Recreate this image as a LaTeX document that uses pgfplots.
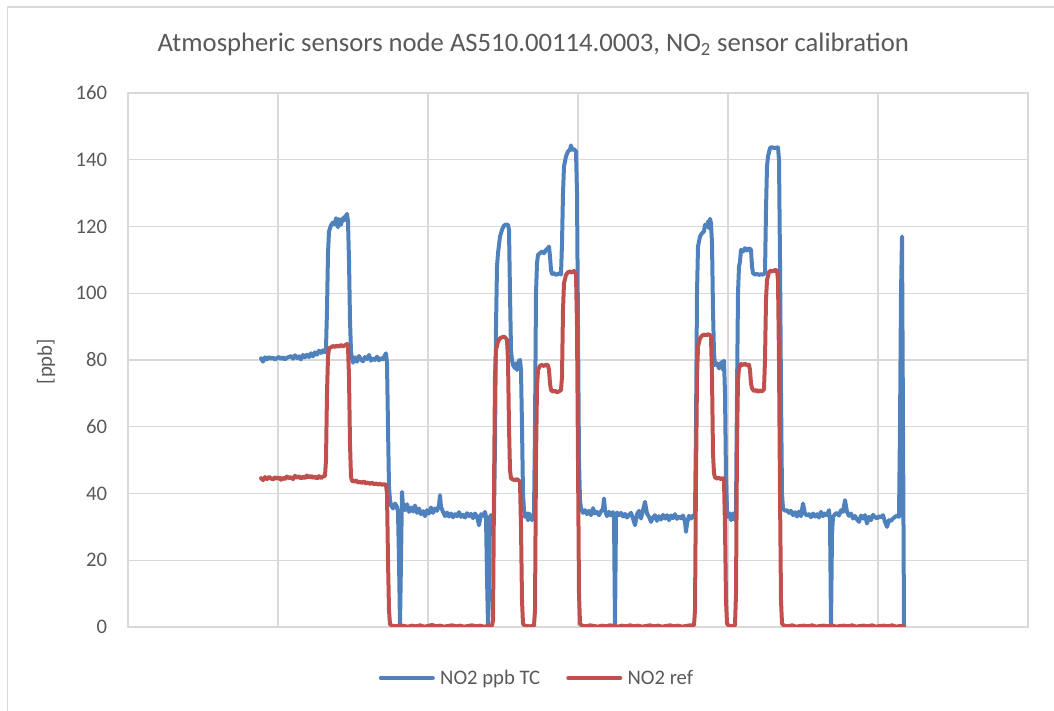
\documentclass[border=0pt]{standalone}
\usepackage{pgfplots}
\pgfplotsset{compat=1.18}
\usepackage{fontspec}
\setmainfont{Carlito}
\definecolor{ncblue}{HTML}{4F81BD}
\definecolor{ncred}{HTML}{C0504D}
\definecolor{gridgray}{HTML}{D9D9D9}
\definecolor{textgray}{HTML}{595959}
\begin{document}
\begin{tikzpicture}
\useasboundingbox (0,0) rectangle (790.5pt,533.25pt);
% chart frame (only top and left are inside the picture)
\draw[gridgray, line width=1.2pt] (5.6pt,0) -- (5.6pt,528pt) -- (790.5pt,528pt);
\node[textgray, anchor=base, font=\fontsize{20}{24}\selectfont] at (400pt,494.5pt)
  {Atmospheric sensors node AS510.00114.0003, NO\textsubscript{2} sensor calibration};
\node[textgray, rotate=90, font=\fontsize{15.5}{18}\selectfont] at (34.5pt,262pt) {[ppb]};
\begin{axis}[
  at={(96pt,63pt)}, anchor=south west,
  scale only axis, width=675pt, height=400.5pt,
  xmin=128, xmax=1028, ymin=0, ymax=160,
  xtick={128,278,...,1028}, xticklabels={},
  ytick={0,20,...,160},
  major tick length=0pt,
  grid=major,
  grid style={gridgray, line width=1pt},
  axis line style={gridgray, line width=1pt},
  /pgf/number format/assume math mode=true,
  yticklabel style={text=textgray, inner sep=0pt, xshift=-15.5pt,
    font=\fontsize{15.5}{18}\selectfont},
  every axis plot/.append style={line width=3pt, line join=round, line cap=round},
  legend columns=2,
  legend style={at={(0.4533,-0.0955)}, anchor=center, draw=none, fill=none,
    font=\fontsize{15.5}{18}\selectfont, text=textgray,
    nodes={inner sep=0pt},
    /tikz/every odd column/.append style={column sep=4pt},
    /tikz/every even column/.append style={column sep=19.5pt}},
  legend image code/.code={\draw[#1] (0pt,0pt) -- (39pt,0pt);},
]
\addplot[ncblue] coordinates {
(261,80.5)(263,79.5)(265,80.8)(267,80.2)(269,80.9)(271,80.4)(273,80.7)(275,80.1)(277,80.6)(279,80.9)
(281,80.3)(283,80.8)(285,80.2)(287,80.7)(289,80.9)(291,81.2)(293,80.4)(295,81.4)(297,80.6)(299,81.1)
(301,80.2)(303,81.5)(305,80.8)(307,81.6)(309,80.9)(311,82.0)(313,81.1)(315,82.3)(317,81.6)(319,82.8)
(321,82.1)(323,82.9)(325,82.3)(326,83.5)(327,95)(328,112)(329,118.5)(331,120.4)(333,121.2)(335,120.6)
(336,122.5)(337,121.0)(338,119.8)(339,122.2)(340,121.4)(341,120.5)(342,122.3)(343,121.6)(344,122.8)
(345,122.0)(346,123.2)(347,123.8)(348,121.5)(349,110)(350,92)(351,82.5)(352,80.5)(353,79.2)(355,80.8)
(357,79.5)(359,81.2)(361,80.1)(363,79.6)(365,80.9)(367,80.3)(369,81.5)(371,79.8)(373,80.5)(375,80.0)
(377,81.0)(379,79.9)(381,80.6)(383,80.2)(385,81.5)(386,82)(387,79)(388,60)(389,42)(390,38)(391,36.5)
(393,35.5)(395,37)(397,36)(398,34.5)(399,20)(400,0.5)(401,20)(402,40.5)(403,36)(405,35)(407,36.8)
(409,34.5)(411,35.8)(413,34.6)(415,36.4)(417,34.2)(419,35.5)(421,33.8)(423,34.7)(425,33.2)(427,35.0)
(429,34.0)(431,35.8)(433,34.2)(435,35.5)(437,34.8)(439,36.5)(440,39.5)(441,36)(443,34.5)(445,33.2)
(447,34.3)(449,33.1)(451,34.0)(453,32.9)(455,33.8)(457,33.2)(459,34.4)(461,33.0)(463,33.6)(465,32.8)
(467,34.1)(469,33.2)(471,33.9)(473,32.6)(475,34.0)(477,33.1)(479,30.5)(481,33.8)(483,33.3)(485,34.5)
(486,33)(487,15)(488,0.5)(489,10)(490,33)(491,33.5)(493,33)(494,34)(495,55)(496,90)(497,108)(498,112)
(500,117)(502,119)(504,120.3)(506,120.6)(508,120.5)(509,119)(510,100)(511,83)(512,80)(513,78.5)
(515,77.5)(516,79)(517,77)(518,78.5)(519,79.8)(520,80)(521,77)(522,60)(523,40)(524,35)(525,33)
(527,34)(528,32)(529,34)(531,33)(532,32)(533,33)(534,34)(535,60)(536,100)(537,109)(538,111.5)
(540,112)(542,112.5)(544,112)(546,113)(548,113.5)(549,114)(550,111)(551,107)(552,105.8)(554,106)
(556,105.5)(558,105.8)(560,106)(561,105.6)(562,115)(563,130)(564,138)(566,141)(568,142.5)(570,143)
(571,144.3)(572,143)(574,143.2)(576,142.5)(577,130)(578,90)(579,50)(580,38)(581,35.5)(583,34.2)
(585,35)(587,33.8)(589,34.8)(591,33.5)(593,35.6)(595,34)(597,34.5)(599,33.5)(601,34.6)(603,35.5)
(604,38.5)(605,35)(607,33.2)(609,34.5)(611,33.4)(613,34.4)(614,33)(615,0.5)(616,33)(617,34.3)
(619,33.5)(621,34.2)(623,33.1)(625,33.9)(627,32.8)(629,33.6)(631,34.2)(633,32.5)(635,30.5)(637,33.8)
(639,34.8)(641,32.5)(643,35)(645,37.5)(647,34)(649,33)(651,31.5)(653,32.8)(655,33.5)(657,31.8)
(659,33.2)(661,32.2)(663,33.6)(665,32.5)(667,33.5)(669,32)(671,33.4)(673,32.6)(675,33.8)(677,32.4)
(679,33.1)(681,32.6)(683,33.4)(685,31.5)(686,28.5)(687,31)(689,33.3)(691,32.5)(693,33.4)(694,32.8)
(695,34)(696,60)(697,100)(698,114)(700,117)(702,118)(704,118.5)(705,120.5)(707,120)(708,121.5)
(709,119.5)(710,122.3)(711,121)(712,115)(713,95)(714,82)(715,78.5)(717,79)(719,77.5)(720,79)(721,78)
(722,79.5)(723,77)(724,79.8)(725,70)(726,45)(727,35)(728,33)(730,34)(731,32)(733,34)(734,33)(735,32)
(736,35)(737,70)(738,100)(739,108)(740,109.5)(741,113)(743,112.5)(745,113.5)(747,112.8)(749,113.5)
(751,113)(752,108)(753,106)(755,105.6)(757,105.8)(759,105.5)(761,105.7)(763,105.6)(765,106)(766,125)
(767,138)(768,141)(770,143.5)(772,143.8)(774,143.5)(776,143.6)(778,143.7)(779,140)(780,110)(781,70)
(782,40)(783,35.5)(785,34.8)(787,35)(789,34.2)(791,34.8)(793,33.5)(795,34.4)(797,33.1)(799,34.6)
(801,33.2)(803,37)(805,34)(807,33.4)(809,33.8)(811,32.9)(813,34)(815,33.1)(817,33.8)(819,32.8)
(821,34.5)(823,33.2)(825,34)(827,33.5)(829,35)(830,32)(831,0.5)(832,28)(833,33)(835,33.8)(837,34.2)
(839,33.4)(841,35)(843,34.5)(845,38)(847,34.5)(849,33.3)(851,34)(853,32.5)(855,33.3)(857,32.2)
(859,31.5)(861,33.4)(863,32.5)(865,33.5)(867,31)(869,33)(871,32)(873,33.6)(875,33)(877,32.5)
(879,33.2)(881,32.8)(883,33.5)(885,31.5)(887,30)(889,32)(891,31.8)(893,32.5)(895,33)(897,33.4)
(899,33)(900,60)(901,100)(902,117)(903,60)(904,0.5)
};
\addlegendentry{NO2 ppb TC}
\addplot[ncred] coordinates {
(261,44.6)(263,44.0)(265,44.9)(267,44.3)(269,45.0)(271,44.5)(273,44.2)(275,44.9)(277,44.4)(279,44.8)
(281,44.1)(283,44.7)(285,44.3)(287,45.1)(289,44.6)(291,44.9)(293,44.3)(295,45.3)(297,44.7)(299,45.2)
(301,44.5)(303,45.0)(305,44.6)(307,45.4)(309,44.8)(311,45.3)(313,44.7)(315,45.0)(317,44.5)(319,45.2)
(321,44.6)(323,45.1)(325,45.3)(326,50)(327,70)(328,81)(329,83.5)(331,83.8)(333,84.2)(335,83.9)
(337,84.3)(339,84.0)(341,84.5)(343,84.1)(345,84.4)(347,84.8)(348,84)(349,75)(350,55)(351,45)
(352,43.8)(354,43.6)(356,43.9)(358,43.3)(360,43.5)(362,43.2)(364,43.6)(366,43.0)(368,43.3)(370,42.9)
(372,43.2)(374,42.8)(376,43.0)(378,42.7)(380,42.9)(382,42.6)(384,42.8)(386,42.6)(387,40)(388,20)
(389,5)(390,0.8)(392,0.4)(396,0.2)(400,0.5)(404,0.3)(408,0.1)(412,0.4)(416,0.2)(420,0.5)(424,0.1)
(428,0.3)(432,0.6)(436,0.2)(440,0.4)(444,0.1)(448,0.3)(452,0.5)(456,0.2)(460,0.4)(464,0.1)(468,0.3)
(472,0.5)(476,0.2)(480,0.4)(484,0.1)(488,0.3)(492,0.4)(493,2)(494,40)(495,75)(496,83)(498,85.5)
(500,86.5)(502,86.8)(504,87)(506,86.5)(507,86)(508,80)(509,60)(510,47)(511,44.5)(513,44.2)(515,44)
(517,44.3)(519,43.8)(520,43.5)(521,30)(522,8)(523,1)(525,0.3)(530,0.2)(534,0.4)(535,5)(536,50)
(537,72)(538,77)(540,78.3)(542,78.5)(544,78.2)(546,78.6)(548,78.4)(549,77)(550,73)(551,71)(553,70.5)
(555,70.8)(557,70.3)(559,70.6)(561,71)(562,75)(563,95)(564,103)(566,105.5)(568,106.3)(570,106.5)
(572,106.2)(574,106.7)(576,105.8)(577,90)(578,50)(579,10)(580,1)(582,0.4)(586,0.2)(590,0.5)(594,0.3)
(598,0.1)(602,0.4)(606,0.2)(610,0.5)(614,0.3)(618,0.1)(622,0.4)(626,0.2)(630,0.5)(634,0.2)(638,0.4)
(642,0.1)(646,0.3)(650,0.5)(654,0.2)(658,0.4)(662,0.1)(666,0.3)(670,0.5)(674,0.2)(678,0.4)(682,0.1)
(686,0.3)(690,0.5)(694,0.5)(695,5)(696,45)(697,75)(698,84)(700,86.5)(702,87.3)(704,87.6)(706,87.4)
(708,87.7)(710,87.5)(711,87)(712,75)(713,52)(714,46)(715,44.8)(717,44.5)(719,44.7)(721,44.3)(723,44.6)
(724,44)(725,30)(726,8)(727,1)(729,0.3)(733,0.2)(735,0.5)(736,10)(737,55)(738,74)(739,77.5)(741,78.8)
(743,78.5)(745,78.9)(747,78.4)(749,78.6)(750,77)(751,73)(752,71.5)(754,70.7)(756,71)(758,70.5)
(760,70.9)(762,70.6)(764,71.2)(765,80)(766,98)(767,104)(769,106.3)(771,106.8)(773,106.5)(775,107)
(777,106.8)(778,104)(779,80)(780,40)(781,8)(782,1)(784,0.4)(788,0.2)(792,0.5)(796,0.1)(800,0.3)
(804,0.4)(808,0.2)(812,0.5)(816,0.1)(820,0.3)(824,0.4)(828,0.2)(832,0.5)(836,0.1)(840,0.3)(844,0.4)
(848,0.2)(852,0.5)(856,0.1)(860,0.3)(864,0.4)(868,0.2)(872,0.5)(876,0.1)(880,0.3)(884,0.4)(888,0.2)
(892,0.5)(896,0.1)(900,0.3)(904,0.2)
};
\addlegendentry{NO2 ref}
\end{axis}
\end{tikzpicture}
\end{document}
